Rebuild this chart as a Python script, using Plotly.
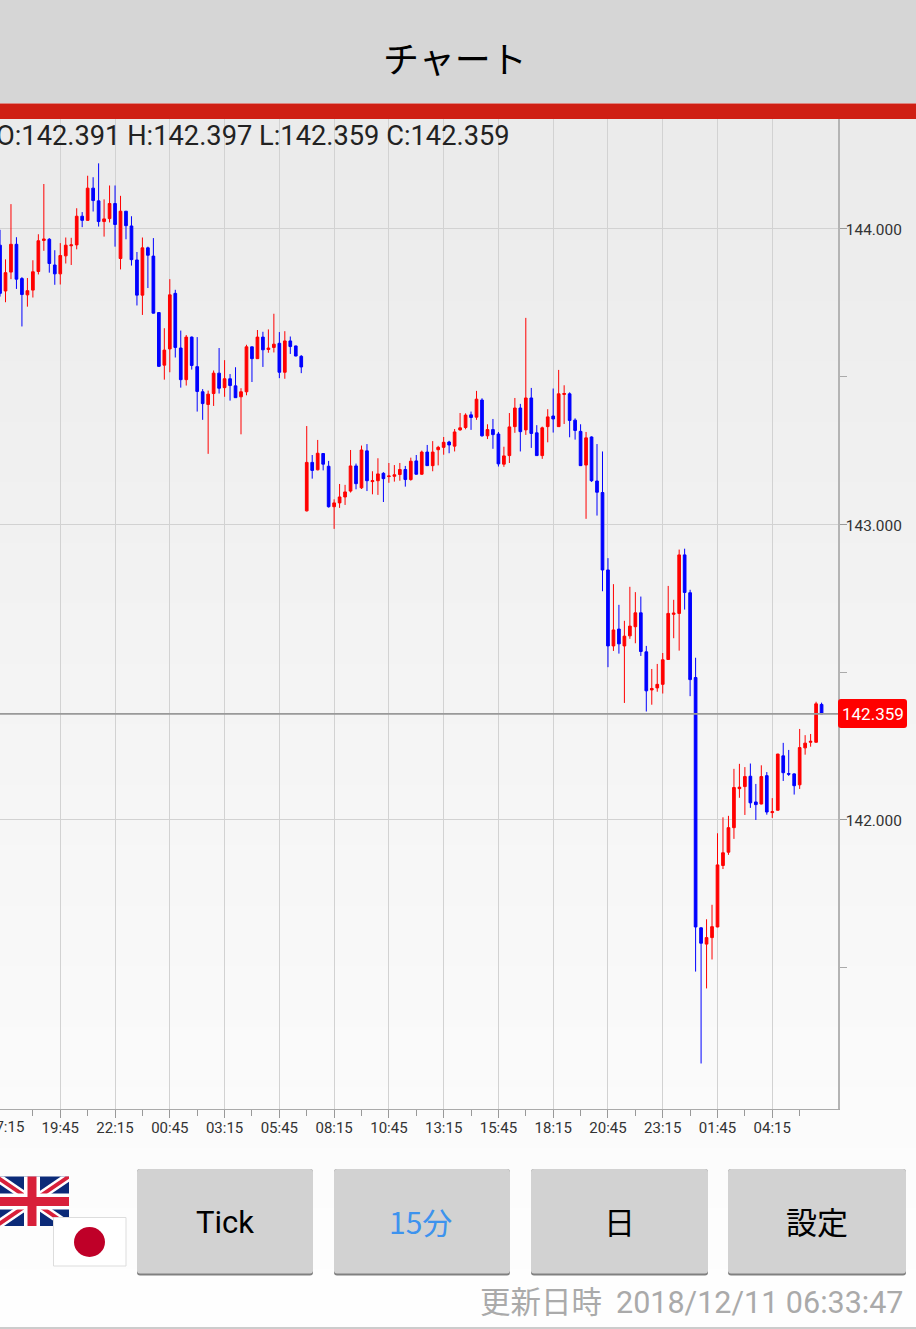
import plotly.graph_objects as go

# ---- Data (15-minute candles) ----
candle_index = list(range(-1, 150))
opens = [143.945,
143.790,143.854,143.948,143.832,143.777,143.793,143.856,143.961,143.965,143.878,
143.848,143.909,143.943,143.946,144.043,144.029,144.138,144.095,144.025,144.035,
144.086,143.900,144.060,144.010,143.895,143.776,143.936,143.908,143.717,143.539,
143.594,143.782,143.597,143.490,143.634,143.534,143.449,143.406,143.443,143.512,
143.463,143.493,143.469,143.432,143.449,143.601,143.561,143.634,143.592,143.599,
143.613,143.515,143.621,143.604,143.569,143.046,143.210,143.185,143.240,143.197,
143.060,143.073,143.093,143.113,143.198,143.124,143.249,143.145,143.148,143.173,
143.162,143.163,143.169,143.186,143.152,143.215,143.170,143.245,143.199,143.253,
143.261,143.279,143.265,143.320,143.328,143.371,143.363,143.421,143.300,143.321,
143.306,143.204,143.233,143.331,143.394,143.320,143.428,143.310,143.233,143.331,
143.367,143.331,143.440,143.442,143.353,143.315,143.201,143.296,143.147,143.108,
142.846,142.589,142.646,142.589,142.623,142.654,142.701,142.569,142.440,142.447,
142.459,142.543,142.696,142.699,142.897,142.769,142.482,141.635,141.580,141.602,
141.638,141.846,141.891,141.974,142.106,142.113,142.148,142.061,142.054,142.150,
142.025,142.033,142.217,142.157,142.156,142.119,142.244,142.263,142.263,142.391]
highs = [143.997,
143.897,144.084,143.972,143.837,143.834,143.894,143.982,144.152,143.969,143.928,
143.952,143.971,143.970,144.070,144.057,144.180,144.175,144.222,144.100,144.147,
144.147,144.112,144.060,144.043,143.922,143.971,143.940,143.969,143.717,143.664,
143.830,143.794,143.656,143.641,143.636,143.634,143.458,143.453,143.521,143.597,
143.556,143.509,143.532,143.461,143.608,143.602,143.658,143.652,143.660,143.713,
143.651,143.654,143.636,143.605,143.573,143.333,143.235,143.286,143.241,143.215,
143.085,143.137,143.134,143.252,143.206,143.267,143.272,143.180,143.224,143.177,
143.208,143.201,143.208,143.198,143.226,143.235,143.250,143.269,143.282,143.266,
143.296,143.283,143.323,143.377,143.376,143.382,143.452,143.427,143.339,143.357,
143.313,143.263,143.377,143.428,143.408,143.699,143.462,143.336,143.331,143.390,
143.460,143.523,143.471,143.447,143.359,143.339,143.313,143.298,143.272,143.247,
142.886,142.798,142.728,142.674,142.789,142.771,142.756,142.589,142.511,142.528,
142.565,142.792,142.745,142.915,142.918,142.779,142.549,141.637,141.664,141.713,
141.955,142.009,142.014,142.173,142.190,142.179,142.191,142.122,142.185,142.162,
142.074,142.224,142.261,142.237,142.158,142.308,142.287,142.291,142.400,142.397]
lows = [143.771,
143.752,143.830,143.797,143.670,143.737,143.768,143.846,143.926,143.852,143.811,
143.812,143.883,143.878,143.931,144.006,144.028,144.059,144.008,143.974,144.022,
143.940,143.863,143.965,143.876,143.741,143.709,143.800,143.714,143.533,143.490,
143.515,143.565,143.463,143.470,143.524,143.382,143.354,143.239,143.401,143.443,
143.432,143.419,143.429,143.305,143.437,143.482,143.560,143.533,143.581,143.582,
143.495,143.493,143.577,143.569,143.512,143.044,143.155,143.183,143.183,143.057,
142.985,143.056,143.066,143.108,143.119,143.120,143.113,143.102,143.100,143.076,
143.141,143.145,143.148,143.128,143.148,143.169,143.168,143.199,143.180,143.200,
143.236,143.241,143.247,143.317,143.322,143.320,143.354,143.297,143.289,143.256,
143.196,143.195,143.208,143.310,143.247,143.303,143.259,143.233,143.222,143.278,
143.311,143.331,143.340,143.295,143.287,143.198,143.019,143.144,143.030,142.774,
142.517,142.572,142.563,142.396,142.613,142.598,142.555,142.367,142.390,142.434,
142.428,142.542,142.615,142.573,142.712,142.419,141.487,141.176,141.430,141.528,
141.637,141.834,141.882,141.936,142.075,142.017,142.041,142.000,142.053,142.018,
142.007,142.032,142.132,142.149,142.086,142.105,142.221,142.248,142.262,142.359]
closes = [143.782,
143.852,143.948,143.830,143.778,143.791,143.855,143.960,143.966,143.883,143.848,
143.910,143.945,143.946,144.043,144.029,144.138,144.096,144.025,144.034,144.086,
144.015,144.060,144.011,143.896,143.776,143.936,143.911,143.715,143.535,143.590,
143.777,143.599,143.490,143.634,143.538,143.450,143.409,143.441,143.512,143.461,
143.493,143.470,143.429,143.449,143.601,143.561,143.634,143.591,143.597,143.610,
143.515,143.621,143.602,143.570,143.533,143.210,143.183,143.241,143.204,143.060,
143.073,143.093,143.110,143.198,143.138,143.252,143.148,143.148,143.171,143.155,
143.164,143.168,143.186,143.152,143.214,143.170,143.245,143.199,143.245,143.261,
143.278,143.269,143.313,143.327,143.370,143.362,143.424,143.300,143.321,143.304,
143.205,143.232,143.330,143.394,143.314,143.428,143.308,143.233,143.327,143.364,
143.357,143.442,143.443,143.352,143.318,143.199,143.293,143.148,143.109,142.846,
142.589,142.643,142.596,142.622,142.656,142.701,142.570,142.437,142.445,142.459,
142.542,142.699,142.700,142.897,142.770,142.475,141.638,141.583,141.602,141.639,
141.848,141.889,141.974,142.110,142.111,142.147,142.058,142.052,142.147,142.027,
142.028,142.223,142.160,142.155,142.116,142.245,142.260,142.266,142.393,142.359]

time_labels = ["17:15","19:45","22:15","00:45","03:15","05:45","08:15","10:45",
               "13:15","15:45","18:15","20:45","23:15","01:45","04:15"]
time_positions = [10 * i for i in range(len(time_labels))]
time_minor = [5 + 10 * i for i in range(len(time_labels))]
price_ticks = [144, 143, 142]
price_labels = ["144.000", "143.000", "142.000"]
price_minor = [143.5, 142.5, 141.5]
ohlc_caption = "O:142.391 H:142.397 L:142.359 C:142.359"
last_label = "142.359"
buttons = [("Tick", 137, 313, "#000000", "Roboto", 31, 1222.5, 0),
           ("15分", 334, 510, "#3d93ee", "Noto Sans CJK JP", 30, 1220.5, -2),
           ("日", 531, 708, "#000000", "Noto Sans CJK JP", 31, 1220, -0.5),
           ("設定", 728, 906, "#000000", "Noto Sans CJK JP", 31, 1220, 0)]
footer_label = "更新日時"
footer_time = "2018/12/11 06:33:47"
title = "チャート"

# ---- Page geometry helpers (chrome only) ----
W, H = 916, 1329
L, R, T, B = 0, 838, 119, 1109
fx = lambda px: (px - L) / (R - L)
fy = lambda py: (B - py) / (B - T)
shapes = []
annots = []


def rect(x0, y0, x1, y1, fill, layer="below", line=None):
    shapes.append(dict(type="rect", xref="paper", yref="paper", x0=fx(x0), x1=fx(x1),
                       y0=fy(y0), y1=fy(y1), fillcolor=fill, layer=layer,
                       line=dict(width=1, color=line) if line else dict(width=0)))


def poly(points, fill, layer="above"):
    path = "M " + " L ".join(f"{fx(x)},{fy(y)}" for x, y in points) + " Z"
    shapes.append(dict(type="path", xref="paper", yref="paper", path=path, fillcolor=fill,
                       layer=layer, line=dict(width=0)))


def rrect(x0, y0, x1, y1, r, fill, layer="above"):
    p = (f"M {fx(x0+r)},{fy(y0)} L {fx(x1-r)},{fy(y0)} Q {fx(x1)},{fy(y0)} {fx(x1)},{fy(y0+r)} "
         f"L {fx(x1)},{fy(y1-r)} Q {fx(x1)},{fy(y1)} {fx(x1-r)},{fy(y1)} "
         f"L {fx(x0+r)},{fy(y1)} Q {fx(x0)},{fy(y1)} {fx(x0)},{fy(y1-r)} "
         f"L {fx(x0)},{fy(y0+r)} Q {fx(x0)},{fy(y0)} {fx(x0+r)},{fy(y0)} Z")
    shapes.append(dict(type="path", xref="paper", yref="paper", path=p, fillcolor=fill,
                       layer=layer, line=dict(width=0)))


def text(px, py, s, size, color, family, anchor="center"):
    annots.append(dict(xref="paper", yref="paper", x=fx(px), y=fy(py), text=s, showarrow=False,
                       xanchor=anchor, yanchor="middle", borderpad=0,
                       font=dict(size=size, color=color, family=family)))


# background gradient, one band per grey level
levels = list(range(235, 255))
band = (H - T) / len(levels)
for i, g in enumerate(levels):
    rect(0, T + i * band, W, T + (i + 1) * band + 1, f"rgb({g},{g},{g})")

# header
rect(0, 0, W, 103.5, "#d6d6d6")
rect(0, 103.5, W, 119, "#cf1f14")
text(455, 57, title, 36, "#000000", "Noto Sans CJK JP")
text(-5, 136, ohlc_caption, 27.25, "#222222", "Roboto", "left")

# last price badge
rrect(838, 699, 907, 728, 3, "#ff0000")
text(872.5, 714, last_label, 17, "#ffffff", "Roboto")

# buttons
for label, x0, x1, col, fam, size, ty, dx in buttons:
    rrect(x0, 1169, x1, 1275.5, 3, "#808080")
    rrect(x0, 1169, x1, 1273.5, 3, "#d2d2d2")
    text((x0 + x1) / 2 + dx, ty, label, size, col, fam)

# footer
text(479, 1300, footer_label, 30.5, "#aaaaaa", "Noto Sans CJK JP", "left")
text(905, 1302, footer_time, 30.5, "#aaaaaa", "Roboto", "right")
rect(0, 1327, W, 1329, "#cccccc", "above")

# first time label sits against the page edge and is cropped by it
text(5.5, 1127, time_labels[0], 15, "#333333", "Roboto")

# UK flag
fx0, fy0, fx1, fy1 = -4, 1176.5, 69, 1226
mx, my = 32, 1201.5
rect(fx0, fy0, fx1, fy1, "#0b2a78", "above")


def diag(w, col):
    dxw, dyw = w, w * 0.67
    poly([(fx0, fy0), (fx0 + dxw, fy0), (fx1, fy1 - dyw), (fx1, fy1), (fx1 - dxw, fy1), (fx0, fy0 + dyw)], col)
    poly([(fx1, fy0), (fx1 - dxw, fy0), (fx0, fy1 - dyw), (fx0, fy1), (fx0 + dxw, fy1), (fx1, fy0 + dyw)], col)


diag(8, "#ffffff")
diag(3.5, "#d8203a")
rect(mx - 8, fy0, mx + 8, fy1, "#ffffff", "above")
rect(fx0, my - 8, fx1, my + 8, "#ffffff", "above")
rect(mx - 4.5, fy0, mx + 4.5, fy1, "#d8203a", "above")
rect(fx0, my - 4.5, fx1, my + 4.5, "#d8203a", "above")

# Japan flag
rect(53.5, 1217.5, 126, 1266, "#ffffff", "above", "#dddddd")
shapes.append(dict(type="circle", xref="paper", yref="paper", x0=fx(74), x1=fx(105), y0=fy(1257),
                   y1=fy(1227), fillcolor="#bf0028", line=dict(width=0), layer="above"))

# ---- Chart ----
fig = go.Figure()
fig.add_trace(go.Candlestick(
    x=candle_index, open=opens, high=highs, low=lows, close=closes, whiskerwidth=0,
    increasing=dict(line=dict(color="#ff0000", width=1), fillcolor="#ff0000"),
    decreasing=dict(line=dict(color="#0000ff", width=1), fillcolor="#0000ff"),
    hoverinfo="skip", showlegend=False))
fig.add_trace(go.Scatter(x=[candle_index[0] - 1, 152], y=[closes[-1], closes[-1]], mode="lines",
                         line=dict(color="#999999", width=1.6), hoverinfo="skip", showlegend=False))

fig.update_layout(
    width=W, height=H, autosize=False, margin=dict(l=L, r=W - R, t=T, b=H - B, autoexpand=False),
    paper_bgcolor="#ffffff", plot_bgcolor="rgba(0,0,0,0)", shapes=shapes, annotations=annots,
    boxgap=0.3, showlegend=False,
    xaxis=dict(range=[-1.004, 152.0], rangeslider=dict(visible=False), tickmode="array",
               tickvals=time_positions[1:], ticktext=time_labels[1:], ticks="outside", ticklen=8, tickwidth=1,
               tickcolor="#999999", showgrid=True, gridcolor="#d2d2d2", gridwidth=1, showline=True,
               linecolor="#aaaaaa", linewidth=1, zeroline=False, ticklabelstandoff=-3,
               tickfont=dict(family="Roboto", size=15, color="#333333"),
               minor=dict(tickmode="array", tickvals=time_minor, ticks="outside", ticklen=6,
                          tickcolor="#999999", showgrid=False)),
    yaxis=dict(range=[141.022, 144.372], side="right", tickmode="array", tickvals=price_ticks,
               ticktext=price_labels, ticks="outside", ticklen=7, tickwidth=1, tickcolor="#999999",
               showgrid=True, gridcolor="#d2d2d2", gridwidth=1, showline=True, linecolor="#b4b4b4",
               linewidth=1.5, zeroline=False, ticklabelstandoff=-4, ticklabelshift=1,
               tickfont=dict(family="Roboto", size=15.4, color="#333333"),
               minor=dict(tickmode="array", tickvals=price_minor, ticks="outside", ticklen=7,
                          tickcolor="#aaaaaa", showgrid=False)),
)

fig.write_html("out.html", config=dict(displayModeBar=False),
               post_script="document.body.style.margin='0';document.body.style.overflow='hidden';")
